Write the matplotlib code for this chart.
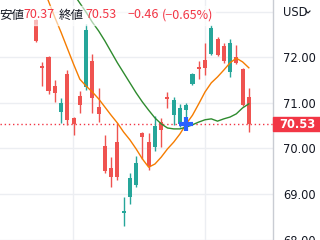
import numpy as np
import matplotlib
matplotlib.use("Agg")
import matplotlib.pyplot as plt
from matplotlib.patches import Rectangle

# ---- data ----
opens  = [72.82, 71.81, 72.01, 71.37, 70.80, 71.63, 70.67, 71.15, 71.35, 71.92,
          70.91, 70.05, 69.57, 70.14, 68.59, 68.94, 69.20, 70.34, 70.14, 70.03,
          70.58, 71.13, 70.73, 70.54, 70.84, 71.41, 71.79, 71.94, 72.07, 72.40,
          72.25, 71.68, 72.01, 71.74, 71.13]
highs  = [72.84, 71.90, 72.03, 71.50, 71.11, 71.72, 70.69, 71.26, 72.73, 72.07,
          71.33, 70.30, 69.81, 70.56, 68.94, 69.46, 69.84, 70.36, 70.34, 70.71,
          70.67, 71.24, 71.13, 70.98, 71.00, 71.66, 71.92, 72.31, 72.71, 72.45,
          72.31, 72.40, 72.27, 71.77, 71.33]
lows   = [72.34, 71.37, 71.20, 71.02, 70.56, 70.52, 70.30, 70.78, 71.28, 70.78,
          70.58, 69.46, 69.16, 69.31, 68.30, 68.78, 69.16, 69.77, 69.53, 69.95,
          70.03, 70.89, 70.52, 70.47, 70.63, 71.39, 71.52, 71.61, 72.05, 72.03,
          71.88, 71.57, 71.85, 70.93, 70.37]
closes = [72.36, 71.77, 71.26, 71.22, 71.00, 70.63, 70.54, 70.95, 72.60, 71.11,
          70.76, 69.51, 69.38, 69.38, 68.63, 69.35, 69.68, 70.25, 69.62, 70.49,
          70.41, 71.09, 71.06, 70.89, 70.95, 71.63, 71.74, 71.77, 72.64, 72.05,
          71.92, 72.31, 71.88, 70.95, 70.53]
ma_fast = [73.91, 73.59, 73.23, 72.88, 72.55, 72.20, 71.85, 71.52, 71.37, 71.24,
           71.09, 70.91, 70.73, 70.56, 70.36, 70.19, 69.99, 69.77, 69.59, 69.66,
           69.81, 69.99, 70.14, 70.32, 70.54, 70.73, 70.98, 71.24, 71.44, 71.57,
           71.72, 71.88, 71.98, 71.90, 71.77]
ma_slow = [np.nan, np.nan, np.nan, np.nan, np.nan, np.nan, 73.39, 73.19, 72.99, 72.77,
           72.58, 72.36, 72.12, 71.88, 71.66, 71.44, 71.22, 71.02, 70.84, 70.67,
           70.54, 70.45, 70.43, 70.43, 70.47, 70.52, 70.58, 70.63, 70.65, 70.60,
           70.65, 70.69, 70.76, 70.89, 70.98]
marker_index = 24
marker_value = 70.54
last_price = 70.53
price_ticks = [68.0, 69.0, 70.0, 71.0, 72.0]
price_tick_labels = ["68.00", "69.00", "70.00", "71.00", "72.00"]
extra_grid = [73.0]
time_grid = [5.9, 27.0]
legend_parts = [("安値", "dark"), ("70.37", "red"), ("終値", "dark"), ("70.53", "red"),
                ("−0.46", "red"), ("(−0.65%)", "red")]
legend_x_px = [-1, 23, 59, 85, 127, 162]
currency = "USD"

# ---- style ----
UP = "#26a69a"
DOWN = "#ef5350"
RED_TXT = "#f23645"
DARK = "#131722"
GRID = "#eceef2"

W, H = 320, 240
fig = plt.figure(figsize=(W / 100, H / 100), dpi=100)
fig.patch.set_facecolor("white")
plot_w = 273
ax = fig.add_axes([0, 0, plot_w / W, 1])
ax.set_facecolor("white")

n = len(closes)
idx = np.arange(n)
ax.set_xlim(-5.75, 37.86)
ax.set_ylim(67.993, 73.257)

# grid
for v in price_ticks + extra_grid:
    ax.axhline(v, color=GRID, lw=1, zorder=0)
for t in time_grid:
    ax.axvline(t, color=GRID, lw=1, zorder=0)

# candles
o = np.array(opens); c = np.array(closes)
hi = np.array(highs); lo = np.array(lows)
colors = [UP if cc >= oo else DOWN for oo, cc in zip(o, c)]
ax.vlines(idx, lo, hi, colors=colors, lw=1, zorder=2)
bottoms = np.minimum(o, c)
heights = np.maximum(np.abs(c - o), 0.03)
ax.bar(idx, heights, bottom=bottoms, width=0.65, color=colors, lw=0, zorder=3)

# moving averages
ax.plot(idx, ma_fast, color="#f57c00", lw=1, zorder=4)
ax.plot(idx, ma_slow, color="#2e8b2e", lw=1, zorder=4)

# last price line
ax.axhline(last_price, color=RED_TXT, lw=1, ls=(0, (1, 2)), zorder=1)

# blue marker
ax.plot([marker_index], [marker_value], marker="+", color="#2962ff",
        markersize=10, mew=3, zorder=6)

# axis
for s in ["top", "left", "bottom"]:
    ax.spines[s].set_visible(False)
ax.spines["right"].set_color("#c9ccd3")
ax.spines["right"].set_linewidth(1)
ax.set_xticks([])
ax.yaxis.tick_right()
ax.set_yticks(price_ticks)
ax.set_yticklabels(price_tick_labels)
ax.tick_params(axis="y", length=0, pad=7.5, labelsize=8.3, labelcolor=DARK)

def fx(px):
    return px / W
def fy(py):
    return 1 - py / H

# price tag
y_last = ax.transData.transform((0, last_price))[1]
tag_h = 14
fig.patches.append(Rectangle((fx(273), (y_last - tag_h / 2) / H), fx(W - 273), tag_h / H,
                             transform=fig.transFigure, color=RED_TXT, zorder=5))
fig.text(fx(297), y_last / H, f"{last_price:.2f}", color="white", fontsize=8.3,
         fontweight="bold", ha="center", va="center", zorder=6)

# currency label
fig.text(fx(283), fy(12.5), currency, color=DARK, fontsize=8.3, ha="left", va="center")
fig.lines.append(plt.Line2D([fx(306), fx(308), fx(310)], [fy(11), fy(13), fy(11)],
                            transform=fig.transFigure, color=DARK, lw=0.8))

# legend
fig.patches.append(Rectangle((0, fy(25)), fx(215), 19 / H, transform=fig.transFigure,
                             color="white", alpha=0.6, zorder=4))
for (txt, col), xp in zip(legend_parts, legend_x_px):
    fig.text(fx(xp), fy(15), txt, color=DARK if col == "dark" else RED_TXT,
             fontsize=9.0, ha="left", va="center",
             family=["Noto Sans CJK JP", "DejaVu Sans"], zorder=7)

fig.savefig("out.png", dpi=100, facecolor="white")
